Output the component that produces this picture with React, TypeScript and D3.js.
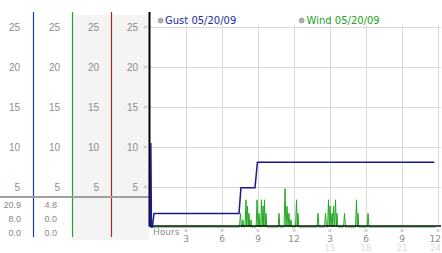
import React from "react";
import * as d3 from "d3";

const yTicks = [25, 20, 15, 10, 5];
const xTicks = [3, 6, 9, 12, 15, 18, 21, 24];
const xLabels1 = ["3", "6", "9", "12", "3", "6", "9", "12"];
const xTicks2 = [15, 18, 21, 24];
const xLabels2 = ["15", "18", "21", "24"];
const gustStats = ["20.9", "8.0", "0.0"];
const windStats = ["4.8", "0.0", "0.0"];

const gustT = [0, 0.07, 0.12, 0.2, 0.33, 7.42, 7.58, 8.75, 8.95, 23.7];
const gustV = [0, 10.5, 0, 0, 1.7, 1.7, 4.9, 4.9, 8.1, 8.1];

const windPts: [number, number][] = [
  [0, 0], [7.46, 0], [7.54, 1.7], [7.62, 0], [7.69, 0], [7.75, 0.9], [7.81, 0], [7.92, 0], [8.0, 3.4], [8.06, 0],
  [8.125, 2.6], [8.19, 0], [8.25, 1.7], [8.31, 0], [8.37, 0], [8.42, 0.9], [8.48, 0], [8.85, 0], [8.92, 3.4], [9.0, 0],
  [9.08, 1.7], [9.15, 0], [9.22, 0], [9.29, 3.4], [9.36, 0], [9.42, 2.6], [9.48, 0], [9.54, 3.4], [9.6, 0], [9.67, 1.7],
  [9.73, 0], [10.68, 0], [10.75, 1.7], [10.82, 0], [11.17, 0], [11.25, 4.8], [11.33, 0], [11.42, 2.6], [11.5, 0],
  [11.58, 1.7], [11.65, 0], [11.75, 0.9], [11.81, 0], [12.13, 0], [12.21, 3.4], [12.27, 0], [12.33, 1.7], [12.4, 0],
  [13.92, 0], [14.0, 1.7], [14.08, 0], [14.55, 0], [14.63, 1.7], [14.7, 0], [14.8, 0], [14.88, 3.4], [14.94, 0],
  [15.0, 2.6], [15.08, 0], [15.17, 1.7], [15.23, 0], [15.29, 2.6], [15.37, 0], [15.46, 3.4], [15.52, 0], [15.58, 1.7],
  [15.65, 0], [16.13, 0], [16.21, 1.7], [16.29, 0], [17.13, 0], [17.21, 3.4], [17.27, 0], [17.33, 1.7], [17.4, 0],
  [18.1, 0], [18.17, 1.7], [18.25, 0], [23.8, 0],
];

const colX = [20, 60, 99, 138];
const colLines = [
  { x: 33, color: "#1a3cb0" },
  { x: 72, color: "#1fa51f" },
  { x: 111, color: "#b82222" },
];

const Mark = ({ x, y }: { x: number; y: number }) => (
  <g stroke="#aaa" strokeWidth={0.8}>
    <line x1={x - 1.5} y1={y - 1.5} x2={x + 1.5} y2={y + 1.5} />
    <line x1={x - 1.5} y1={y + 1.5} x2={x + 1.5} y2={y - 1.5} />
  </g>
);

export default function App() {
  const x = d3.scaleLinear().domain([0, 24]).range([150, 438]);
  const y = d3.scaleLinear().domain([0, 25]).range([227, 27]);
  const gustLine = d3
    .line<number>()
    .x((_, i) => x(gustT[i]))
    .y((d) => y(d));
  const windLine = d3
    .line<[number, number]>()
    .x((d) => x(d[0]))
    .y((d) => y(d[1]));
  const tickFont = "'Liberation Sans', Arial, sans-serif";
  const legFont = "'DejaVu Sans', Verdana, sans-serif";

  return (
    <svg width={442} height={253} style={{ position: "absolute", left: 0, top: 0 }}>
      <rect width={442} height={253} fill="#fff" />
      {/* shaded columns */}
      <rect x={72} y={15} width={77} height={225} fill="#f4f4f4" />
      {/* grid */}
      {yTicks.map((t) => (
        <line key={"gy" + t} x1={150} x2={441} y1={y(t) + 0.5} y2={y(t) + 0.5} stroke="#d9d9d9" />
      ))}
      {xTicks.map((t) => (
        <line key={"gx" + t} x1={x(t) + 0.5} x2={x(t) + 0.5} y1={25} y2={226} stroke="#d9d9d9" />
      ))}
      {/* left columns */}
      {colLines.map((c) => (
        <line key={c.x} x1={c.x + 0.5} x2={c.x + 0.5} y1={12} y2={237} stroke={c.color} strokeWidth={1.2} />
      ))}
      <line x1={0} x2={150} y1={197} y2={197} stroke="#a0a0a0" strokeWidth={2} />
      {colX.map((cx, ci) =>
        yTicks.map((t) => (
          <text
            key={ci + "-" + t}
            x={cx}
            y={y(t) + 0.5}
            textAnchor="end"
            dominantBaseline="central"
            fontFamily={tickFont}
            fontSize={10}
            fill="#8c8c8c"
          >
            {t}
          </text>
        ))
      )}
      {yTicks.map((t) => (
        <Mark key={"m" + t} x={145.5} y={y(t)} />
      ))}
      {[gustStats, windStats].map((col, ci) =>
        col.map((s, ri) => (
          <text
            key={"s" + ci + ri}
            x={ci === 0 ? 21 : 57}
            y={205 + ri * 14}
            textAnchor="end"
            dominantBaseline="central"
            fontFamily={tickFont}
            fontSize={9}
            fill="#888"
          >
            {s}
          </text>
        ))
      )}
      {/* wind series */}
      <path d={windLine(windPts) || ""} fill="none" stroke="#22a622" strokeWidth={1} />
      {/* axes */}
      <line x1={149.5} x2={149.5} y1={12} y2={226.5} stroke="#000" strokeWidth={2} />
      <line x1={150} x2={441} y1={225.9} y2={225.9} stroke="#111" strokeWidth={1.5} />
      {/* gust series */}
      <path d={gustLine(gustV) || ""} fill="none" stroke="#1a1a8c" strokeWidth={1.5} />
      {/* x axis labels */}
      <text x={153} y={235} fontFamily={legFont} fontSize={9} fill="#8c8c8c">
        Hours
      </text>
      {xTicks.map((t) => (
        <Mark key={"xm" + t} x={x(t)} y={230.5} />
      ))}
      {xTicks.map((t, i) => (
        <text
          key={"xl" + t}
          x={i === xTicks.length - 1 ? 441 : x(t)}
          y={242}
          textAnchor={i === xTicks.length - 1 ? "end" : "middle"}
          fontFamily={legFont}
          fontSize={9}
          fill="#8c8c8c"
        >
          {xLabels1[i]}
        </text>
      ))}
      {xTicks2.map((t, i) => (
        <text
          key={"xl2" + t}
          x={i === xTicks2.length - 1 ? 441 : x(t)}
          y={251}
          textAnchor={i === xTicks2.length - 1 ? "end" : "middle"}
          fontFamily={legFont}
          fontSize={8.5}
          fill="#dcdcdc"
        >
          {xLabels2[i]}
        </text>
      ))}
      {/* legend */}
      <circle cx={160.7} cy={20.5} r={2.5} fill="#b0b0b0" stroke="#8a8a8a" strokeWidth={0.6} />
      <text x={165} y={24} fontFamily={legFont} fontSize={10} fill="#1c2ca0">
        Gust 05/20/09
      </text>
      <circle cx={301.7} cy={20.5} r={2.5} fill="#b0b0b0" stroke="#8a8a8a" strokeWidth={0.6} />
      <text x={306.5} y={24} fontFamily={legFont} fontSize={10} fill="#22a022">
        Wind 05/20/09
      </text>
    </svg>
  );
}
